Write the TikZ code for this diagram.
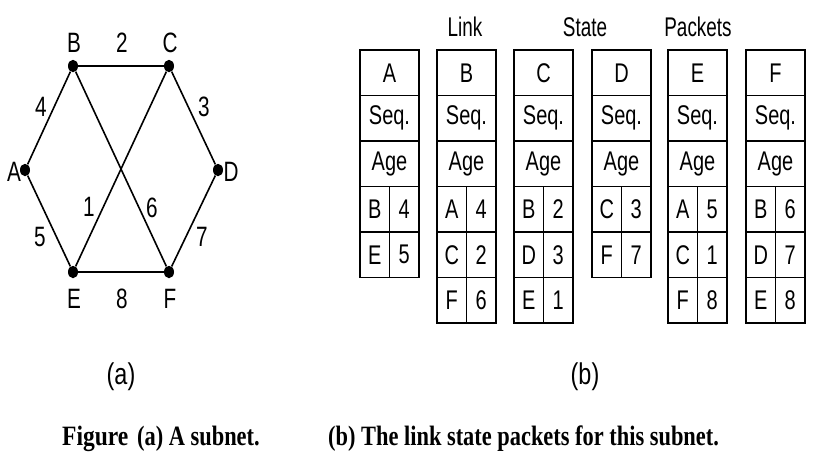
\documentclass[tikz,border=0pt]{standalone}
\usepackage{fontspec}
\usetikzlibrary{shapes.geometric}
\newfontfamily\hvg[FakeStretch=0.74]{Liberation Sans}
\newfontfamily\hvh[FakeStretch=0.7]{Liberation Sans}
\newfontfamily\hvs[FakeStretch=0.78]{Liberation Sans}
\newfontfamily\tms[FakeStretch=0.8]{Liberation Serif}
\newfontfamily\tmsf[FakeStretch=0.84]{Liberation Serif}
\begin{document}
\begin{tikzpicture}[x=1pt,y=-1pt,
  dot/.style={ellipse,fill=black,inner sep=0pt,minimum width=10pt,minimum height=12.5pt},
  lbl/.style={inner sep=0pt,font=\hvg\fontsize{28}{30}\selectfont},
  hdr/.style={inner sep=0pt,font=\hvh\fontsize{27}{29}\selectfont},
  sub/.style={inner sep=0pt,font=\hvs\fontsize{30}{32}\selectfont},
  linkline/.style={line width=1.6pt},
  cell/.style={draw,line width=1.5pt,inner sep=0pt,minimum height=45.5pt,font=\hvg\fontsize{27}{29}\selectfont},
  full/.style={cell,minimum width=59pt},
  half/.style={cell,minimum width=29.5pt},
  captxt/.style={inner sep=0pt,anchor=base west,font=\tms\bfseries\fontsize{28}{30}\selectfont}]
\useasboundingbox (0,0) rectangle (823,461);
% graph
\node[dot] (A) at (25,170) {};
\node[dot] (B) at (73,66) {};
\node[dot] (C) at (169,66) {};
\node[dot] (D) at (218,170) {};
\node[dot] (E) at (73,272) {};
\node[dot] (F) at (169,272) {};
\draw[linkline] (B) -- (C) -- (D) -- (F) -- (E) -- (A) -- (B);
\draw[linkline] (B) -- (F);
\draw[linkline] (C) -- (E);
\node[lbl] (lA) at (14,172) {A};
\node[lbl] (lB) at (74,43) {B};
\node[lbl] (lC) at (170,43) {C};
\node[lbl] (lD) at (231,172) {D};
\node[lbl] (lE) at (74,299) {E};
\node[lbl] (lF) at (170,299) {F};
\node[lbl] (w2) at (122,43) {2};
\node[lbl] (w8) at (122,299) {8};
\node[lbl] (w4) at (41,107) {4};
\node[lbl] (w3) at (204,107) {3};
\node[lbl] (w5) at (40,237) {5};
\node[lbl] (w7) at (202,237) {7};
\node[lbl] (w1) at (89,207) {1};
\node[lbl] (w6) at (152,208) {6};
% header
\node[hdr] (hlink) at (465,27) {Link};
\node[hdr] (hstate) at (585,27) {State};
\node[hdr] (hpack) at (698,27) {Packets};
% tables
\foreach \x/\n/\rows in {360/A/{B/4,E/5},437/B/{A/4,C/2,F/6},514/C/{B/2,D/3,E/1},592/D/{C/3,F/7},668/E/{A/5,C/1,F/8},746/F/{B/6,D/7,E/8}}{
  \node[full] (t\n0) at (\x+29.5,50+22.75) {\n};
  \node[full] (t\n1) at (\x+29.5,50+45.5+22.75) {Seq.};
  \node[full] (t\n2) at (\x+29.5,50+91+22.75) {Age};
  \foreach \p/\q [count=\i from 3] in \rows {
    \node[half] (t\n\i a) at (\x+14.75,50+45.5*\i+22.75) {\p};
    \node[half] (t\n\i b) at (\x+44.25,50+45.5*\i+22.75) {\q};
  }
}
% sublabels
\node[sub] (sa) at (121,377) {(a)};
\node[sub] (sb) at (585,377) {(b)};
% caption
\node[captxt,font=\tmsf\bfseries\fontsize{28}{30}\selectfont] (c1) at (62,445) {Figure};
\node[captxt] (c2) at (137,445) {(a) A subnet.};
\node[captxt] (c3) at (328,445) {(b) The link state packets for this subnet.};
\end{tikzpicture}
\end{document}
